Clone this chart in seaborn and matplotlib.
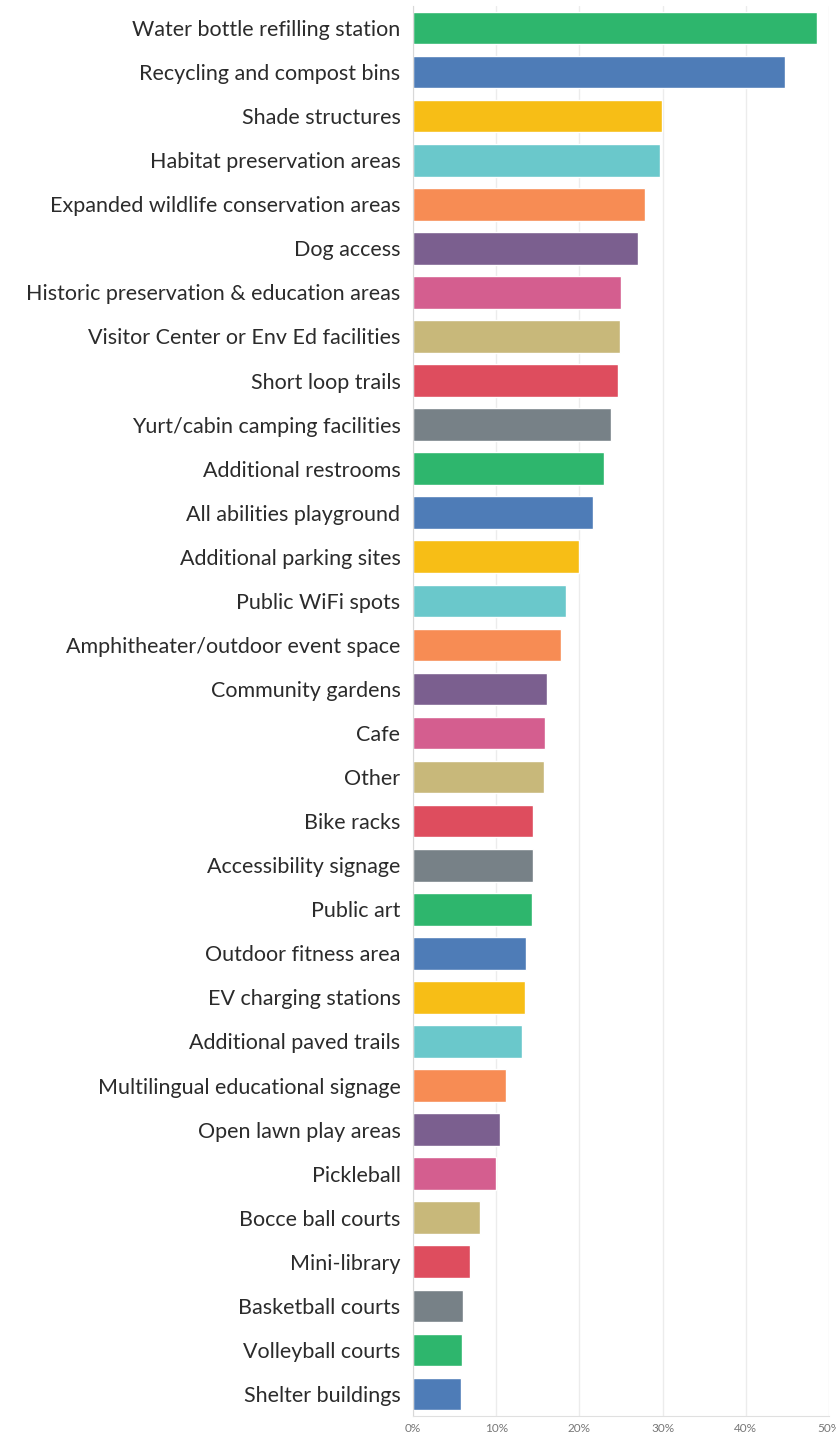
import matplotlib
matplotlib.use("Agg")
import matplotlib.pyplot as plt
import seaborn as sns
import pandas as pd
from matplotlib.ticker import FuncFormatter

categories = [
    "Water bottle refilling station", "Recycling and compost bins", "Shade structures",
    "Habitat preservation areas", "Expanded wildlife conservation areas", "Dog access",
    "Historic preservation & education areas", "Visitor Center or Env Ed facilities",
    "Short loop trails", "Yurt/cabin camping facilities", "Additional restrooms",
    "All abilities playground", "Additional parking sites", "Public WiFi spots",
    "Amphitheater/outdoor event space", "Community gardens", "Cafe", "Other",
    "Bike racks", "Accessibility signage", "Public art", "Outdoor fitness area",
    "EV charging stations", "Additional paved trails", "Multilingual educational signage",
    "Open lawn play areas", "Pickleball", "Bocce ball courts", "Mini-library",
    "Basketball courts", "Volleyball courts", "Shelter buildings",
]
percent = [
    48.6, 44.7, 29.9, 29.7, 27.9, 27.0, 25.0, 24.9, 24.6, 23.8, 23.0, 21.6, 20.0,
    18.4, 17.8, 16.1, 15.9, 15.7, 14.4, 14.4, 14.3, 13.6, 13.5, 13.1, 11.2, 10.5,
    10.0, 8.1, 6.9, 6.0, 5.9, 5.8,
]
base_colors = ["#2eb66d", "#4e7cb7", "#f7be16", "#6ac8cb", "#f78c54",
               "#7b5f8f", "#d45e8f", "#c8b87a", "#de4d5e", "#778187"]

df = pd.DataFrame({"item": categories, "pct": percent})
palette = [base_colors[i % len(base_colors)] for i in range(len(categories))]

sns.set_style("white")
plt.rcParams["font.family"] = ["Lato", "DejaVu Sans"]

fig = plt.figure(figsize=(8.37, 14.34), dpi=100)
ax = fig.add_axes([413 / 837, 18 / 1434, 416 / 837, 1410 / 1434])

sns.barplot(data=df, x="pct", y="item", hue="item", palette=palette,
            legend=False, width=0.74, ax=ax, saturation=1)

ax.set_xlim(0, 50)
ax.set_ylim(len(categories) - 0.5, -0.5)
ax.set_xticks([0, 10, 20, 30, 40, 50])
ax.xaxis.set_major_formatter(FuncFormatter(lambda v, p: f"{v:.0f}%"))
ax.grid(axis="x", color="#ececec", linewidth=1)
ax.set_axisbelow(True)
ax.set_xlabel("")
ax.set_ylabel("")

for s in ["top", "right"]:
    ax.spines[s].set_visible(False)
ax.spines["left"].set_color("#d8d8d8")
ax.spines["bottom"].set_color("#e0e0e0")

ax.tick_params(axis="y", length=0, pad=9, labelsize=15.5, labelcolor="#2b2b2b")
ax.tick_params(axis="x", length=0, pad=5, labelsize=8.5, labelcolor="#777777")

fig.savefig("out.png", dpi=100)
